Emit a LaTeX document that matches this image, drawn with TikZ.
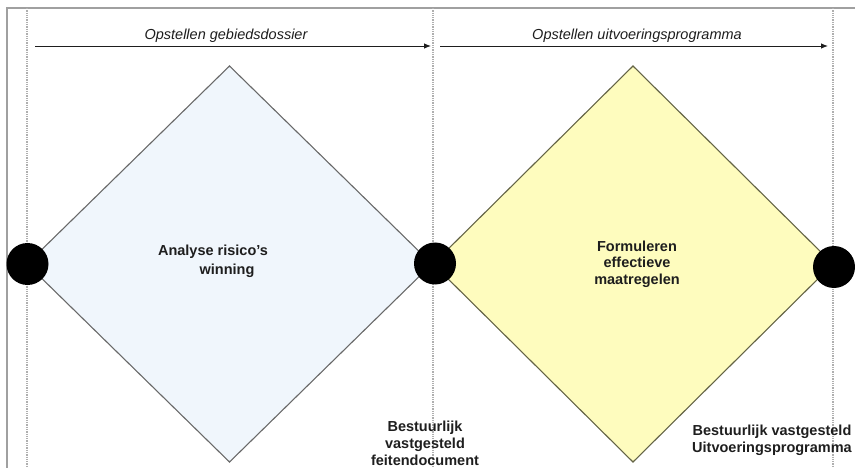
\documentclass[tikz,border=0pt]{standalone}
\usepackage{fontspec}
\setmainfont{Liberation Sans}
\usetikzlibrary{arrows.meta,shapes.geometric}
\definecolor{bluefill}{RGB}{240,246,252}
\definecolor{yellowfill}{RGB}{254,252,190}
\definecolor{blueedge}{RGB}{105,105,105}
\definecolor{yellowedge}{RGB}{100,100,70}
\definecolor{framegray}{RGB}{160,160,160}
\definecolor{guidegray}{RGB}{175,175,175}
\definecolor{inkgray}{RGB}{30,30,30}
\tikzset{
  framestyle/.style={draw=framegray, line width=1.1pt},
  guide/.style={draw=guidegray, line width=1.3pt, densely dotted},
  phasebox/.style={diamond, draw, line width=1.1pt, inner sep=0pt, outer sep=0pt},
  milestone/.style={circle, fill=black, draw=none, minimum size=42pt, inner sep=0pt},
  phasearrow/.style={draw=inkgray, line width=0.9pt, -{Latex[length=7pt,width=5.5pt]}},
  italiclabel/.style={font=\fontsize{14.5}{17}\selectfont\itshape, text=inkgray, inner sep=0pt},
  boldlabel/.style={font=\fontsize{14.5}{17}\selectfont\bfseries, text=inkgray, align=center, inner sep=0pt},
}
\begin{document}
\begin{tikzpicture}[x=1pt,y=-1pt]
\useasboundingbox (0,0) rectangle (855,468);
% frame
\coordinate (fbl) at (7,470);
\coordinate (ftl) at (7,8);
\coordinate (ftr) at (857,8);
\draw[framestyle] (fbl) -- (ftl) -- (ftr);
% guide lines
\coordinate (g1t) at (27,8);   \coordinate (g1b) at (27,470);
\coordinate (g2t) at (433,8);  \coordinate (g2b) at (433,470);
\coordinate (g3t) at (833,8);  \coordinate (g3b) at (833,470);
\draw[guide] (g1t) -- (g1b);
\draw[guide] (g2t) -- (g2b);
\draw[guide] (g3t) -- (g3b);
% diamonds
\node[phasebox, fill=bluefill, draw=blueedge, minimum width=405pt, minimum height=396pt] (d1) at (229.5,264) {};
\node[phasebox, fill=yellowfill, draw=yellowedge, minimum width=400pt, minimum height=396pt] (d2) at (633,264) {};
% milestones
\node[milestone] (c1) at (27.5,264) {};
\node[milestone] (c2) at (435,263.5) {};
\node[milestone] (c3) at (834,267) {};
% phase arrows
\coordinate (s1) at (35,46);  \coordinate (e1) at (431,46);
\coordinate (s2) at (440,46); \coordinate (e2) at (828,46);
\draw[phasearrow] (s1) -- (e1);
\draw[phasearrow] (s2) -- (e2);
\node[italiclabel] (t1) at (226,36) {Opstellen gebiedsdossier};
\node[italiclabel] (t2) at (637,36) {Opstellen uitvoeringsprogramma};
% texts
\node[boldlabel, font=\fontsize{14.5}{19}\selectfont\bfseries] (a1) at (213,261) {Analyse risico's\\\hspace*{28pt}winning};
\node[boldlabel, font=\fontsize{14.5}{16.5}\selectfont\bfseries] (f1) at (637,264) {Formuleren\\effectieve\\maatregelen};
\node[boldlabel] (b1) at (425,443) {Bestuurlijk\\vastgesteld\\feitendocument};
\node[boldlabel] (b2) at (772,440) {Bestuurlijk vastgesteld\\Uitvoeringsprogramma};
\end{tikzpicture}
\end{document}
